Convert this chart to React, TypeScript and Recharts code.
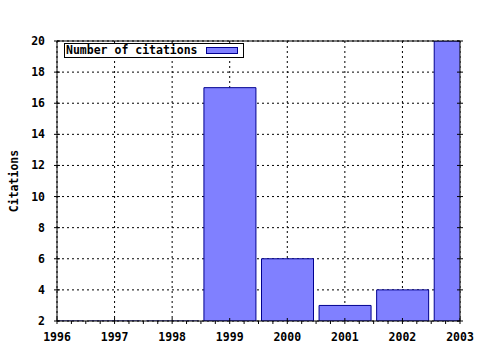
import React from 'react';
import {
  BarChart,
  Bar,
  XAxis,
  YAxis,
  CartesianGrid,
  Legend,
} from 'recharts';

// Citation counts per year
const years = [1996, 1997, 1998, 1999, 2000, 2001, 2002, 2003];
const citations = [0, 0, 0, 17, 6, 3, 4, 20];
const yTicks = [2, 4, 6, 8, 10, 12, 14, 16, 18, 20];

// quarter-year minor ticks between the labelled years
const xTicks = years.flatMap((yr, i) =>
  i < years.length - 1 ? [yr, yr + 0.25, yr + 0.5, yr + 0.75] : [yr]
);

const data = years.map((year, i) => ({ year, citations: citations[i] }));

const font = {
  fontFamily: '"DejaVu Sans Mono", monospace',
  fontWeight: 'bold' as const,
  fontSize: 11.5,
};

function BottomTick({ x, y, payload }: any) {
  const major = Number.isInteger(payload.value);
  return (
    <g>
      <line x1={x} x2={x} y1={major ? y - 3 : y} y2={y + 3} stroke="#000" />
      {major && (
        <text x={x} y={y + 20} textAnchor="middle" fill="#000" style={font}>
          {payload.value}
        </text>
      )}
    </g>
  );
}

function TopTick({ x, y, payload }: any) {
  const major = Number.isInteger(payload.value);
  return <line x1={x} x2={x} y1={y - 3} y2={major ? y + 3 : y} stroke="#000" />;
}

function LeftTick({ x, y, payload }: any) {
  return (
    <g>
      <line x1={x - 3} x2={x + 3} y1={y} y2={y} stroke="#000" />
      <text x={x - 12} y={y + 4} textAnchor="end" fill="#000" style={font}>
        {payload.value}
      </text>
    </g>
  );
}

function RightTick({ x, y }: any) {
  return <line x1={x - 3} x2={x + 3} y1={y} y2={y} stroke="#000" />;
}

function LegendBox() {
  return (
    <div
      style={{
        ...font,
        border: '1px solid #000',
        background: '#fff',
        width: 177,
        height: 13,
        lineHeight: '13px',
        display: 'flex',
        alignItems: 'center',
        paddingLeft: 1,
        boxSizing: 'content-box',
      }}
    >
      <span style={{ whiteSpace: 'pre' }}>Number of citations</span>
      <svg width={34} height={8} style={{ marginLeft: 8 }}>
        <rect x={0.5} y={0.5} width={31} height={6} fill="#8080ff" stroke="#000090" />
      </svg>
    </div>
  );
}

export default function App() {
  return (
    <div style={{ position: 'absolute', left: 0, top: 0, background: '#fff' }}>
      <BarChart
        width={480}
        height={350}
        data={data}
        margin={{ top: 0, right: 0, bottom: 0, left: 0 }}
      >
        <CartesianGrid
          stroke="#000"
          strokeDasharray="2 3"
          verticalValues={years}
          horizontalValues={yTicks}
        />
        <XAxis
          dataKey="year"
          type="number"
          domain={[1996, 2003]}
          allowDataOverflow
          ticks={xTicks}
          interval={0}
          height={29}
          tickSize={0}
          tickMargin={0}
          tickLine={false}
          axisLine={{ stroke: '#000' }}
          tick={<BottomTick />}
        />
        <XAxis
          xAxisId="top"
          orientation="top"
          type="number"
          domain={[1996, 2003]}
          allowDataOverflow
          ticks={xTicks}
          interval={0}
          height={41}
          tickSize={0}
          tickMargin={0}
          tickLine={false}
          axisLine={{ stroke: '#000' }}
          tick={<TopTick />}
        />
        <YAxis
          type="number"
          domain={[2, 20]}
          allowDataOverflow
          ticks={yTicks}
          interval={0}
          width={57}
          tickSize={0}
          tickMargin={0}
          tickLine={false}
          axisLine={{ stroke: '#000' }}
          tick={<LeftTick />}
          label={{
            value: 'Citations',
            angle: -90,
            position: 'insideLeft',
            offset: 14,
            style: { ...font, textAnchor: 'middle', fill: '#000' },
          }}
        />
        <YAxis
          yAxisId="right"
          orientation="right"
          type="number"
          domain={[2, 20]}
          allowDataOverflow
          ticks={yTicks}
          interval={0}
          width={20}
          tickSize={0}
          tickMargin={0}
          tickLine={false}
          axisLine={{ stroke: '#000' }}
          tick={<RightTick />}
        />
        <Legend
          layout="horizontal"
          verticalAlign="middle"
          align="center"
          wrapperStyle={{ top: 43, left: 64, width: 'auto' }}
          content={<LegendBox />}
        />
        <Bar
          dataKey="citations"
          name="Number of citations"
          barSize={52}
          fill="#8080ff"
          stroke="#000090"
          strokeWidth={1}
          isAnimationActive={false}
        />
      </BarChart>
    </div>
  );
}
